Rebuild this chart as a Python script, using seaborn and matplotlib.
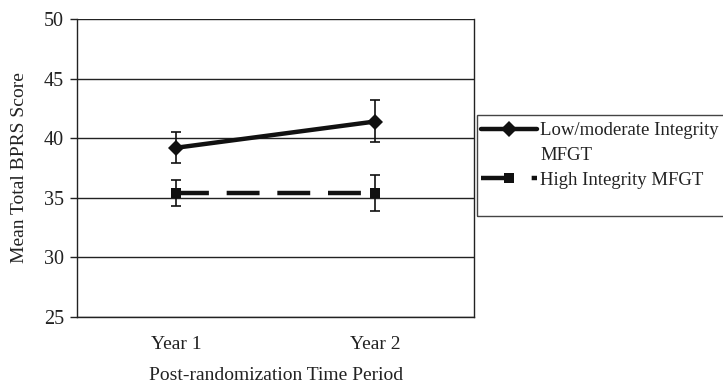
import matplotlib
matplotlib.use("Agg")
import matplotlib.pyplot as plt
from matplotlib.ticker import FixedLocator
from matplotlib.lines import Line2D
from matplotlib.patches import Rectangle
import seaborn as sns
import pandas as pd
import numpy as np

# ---- data ----
periods = ["Year 1", "Year 2"]
groups = ["Low/moderate Integrity MFGT", "High Integrity MFGT"]
low_mean = [39.2, 41.4]
low_lower = [37.95, 39.65]
low_upper = [40.5, 43.2]
high_mean = [35.4, 35.4]
high_lower = [34.3, 33.9]
high_upper = [36.5, 36.9]
y_ticks = [25, 30, 35, 40, 45, 50]
x_label = "Post-randomization Time Period"
y_label = "Mean Total BPRS Score"

sns.set_theme(style="white")
plt.rcParams["font.family"] = ["Liberation Serif", "DejaVu Serif"]

df = pd.DataFrame({
    "pos": list(range(len(periods))) * 2,
    "score": low_mean + high_mean,
    "group": [groups[0]] * len(periods) + [groups[1]] * len(periods),
})

fig = plt.figure(figsize=(7.23, 3.84), dpi=100)
ax = fig.add_axes([0.1065, 0.1745, 0.5495, 0.776])

sns.lineplot(data=df, x="pos", y="score", hue="group", style="group",
             palette=["#111111", "#111111"],
             markers={groups[0]: "D", groups[1]: "s"},
             dashes={groups[0]: "", groups[1]: (7.4, 4.0)},
             markersize=9, linewidth=3.2, markeredgewidth=0,
             ax=ax, legend=True, zorder=4)
for ln in ax.lines:
    if ln.get_marker() == "D":
        ln.set_markersize(8.5)
    elif ln.get_marker() == "s":
        ln.set_markersize(7.5)

for m, lo, hi in [(low_mean, low_lower, low_upper), (high_mean, high_lower, high_upper)]:
    m = np.array(m); lo = np.array(lo); hi = np.array(hi)
    ax.errorbar(range(len(periods)), m, yerr=[m - lo, hi - m], fmt="none",
                ecolor="#111111", elinewidth=1.2, capsize=3.8, capthick=1.2, zorder=5)

ax.set_xlim(-0.5, len(periods) - 0.5)
ax.set_ylim(min(y_ticks), max(y_ticks))
ax.set_yticks(y_ticks)
ax.set_xticks(range(len(periods)))
ax.set_xticklabels(periods)
ax.xaxis.set_minor_locator(FixedLocator([-0.5, 0.5, 1.5]))
ax.tick_params(axis="x", which="major", length=0, pad=14, labelsize=14, colors="#222222")
ax.tick_params(axis="x", which="minor", length=5, width=1, color="#222222", direction="out")
ax.tick_params(axis="y", which="major", length=5, width=1, color="#222222",
               direction="out", labelsize=14.5, labelcolor="#222222", pad=4.5, left=True)
ax.grid(axis="y", color="#222222", linewidth=1)
ax.set_axisbelow(True)
for s in ["left", "bottom", "right"]:
    ax.spines[s].set_visible(True)
    ax.spines[s].set_color("#222222")
    ax.spines[s].set_linewidth(1)
ax.spines["top"].set_visible(False)

ax.set_xlabel(x_label, fontsize=14, color="#222222", labelpad=10)
ax.set_ylabel(y_label, fontsize=14, color="#222222", labelpad=11)

# legend: first label wrapped onto a second row, as in the reference
handles, labels = ax.get_legend_handles_labels()
if ax.legend_:
    ax.legend_.remove()
h_map = dict(zip(labels, handles))
first_words = groups[0].rsplit(" ", 1)
blank = Line2D([], [], linestyle="none", marker=None)
leg_handles = [h_map[groups[0]], blank, h_map[groups[1]]]
leg_labels = [first_words[0], first_words[1], groups[1]]
leg = fig.legend(leg_handles, leg_labels, loc="upper left",
                 bbox_to_anchor=(481 / 723, 1 - 122 / 384),
                 fontsize=13.5, frameon=False,
                 handlelength=2.99, handletextpad=0.16, borderpad=0,
                 labelspacing=0.41, borderaxespad=0)
for t in leg.get_texts():
    t.set_color("#222222")

fig.patches.append(Rectangle((477 / 723, 1 - 216 / 384), 0.4, 101 / 384,
                             transform=fig.transFigure, fill=False,
                             edgecolor="#444444", linewidth=1))

fig.savefig("out.png", dpi=100)
